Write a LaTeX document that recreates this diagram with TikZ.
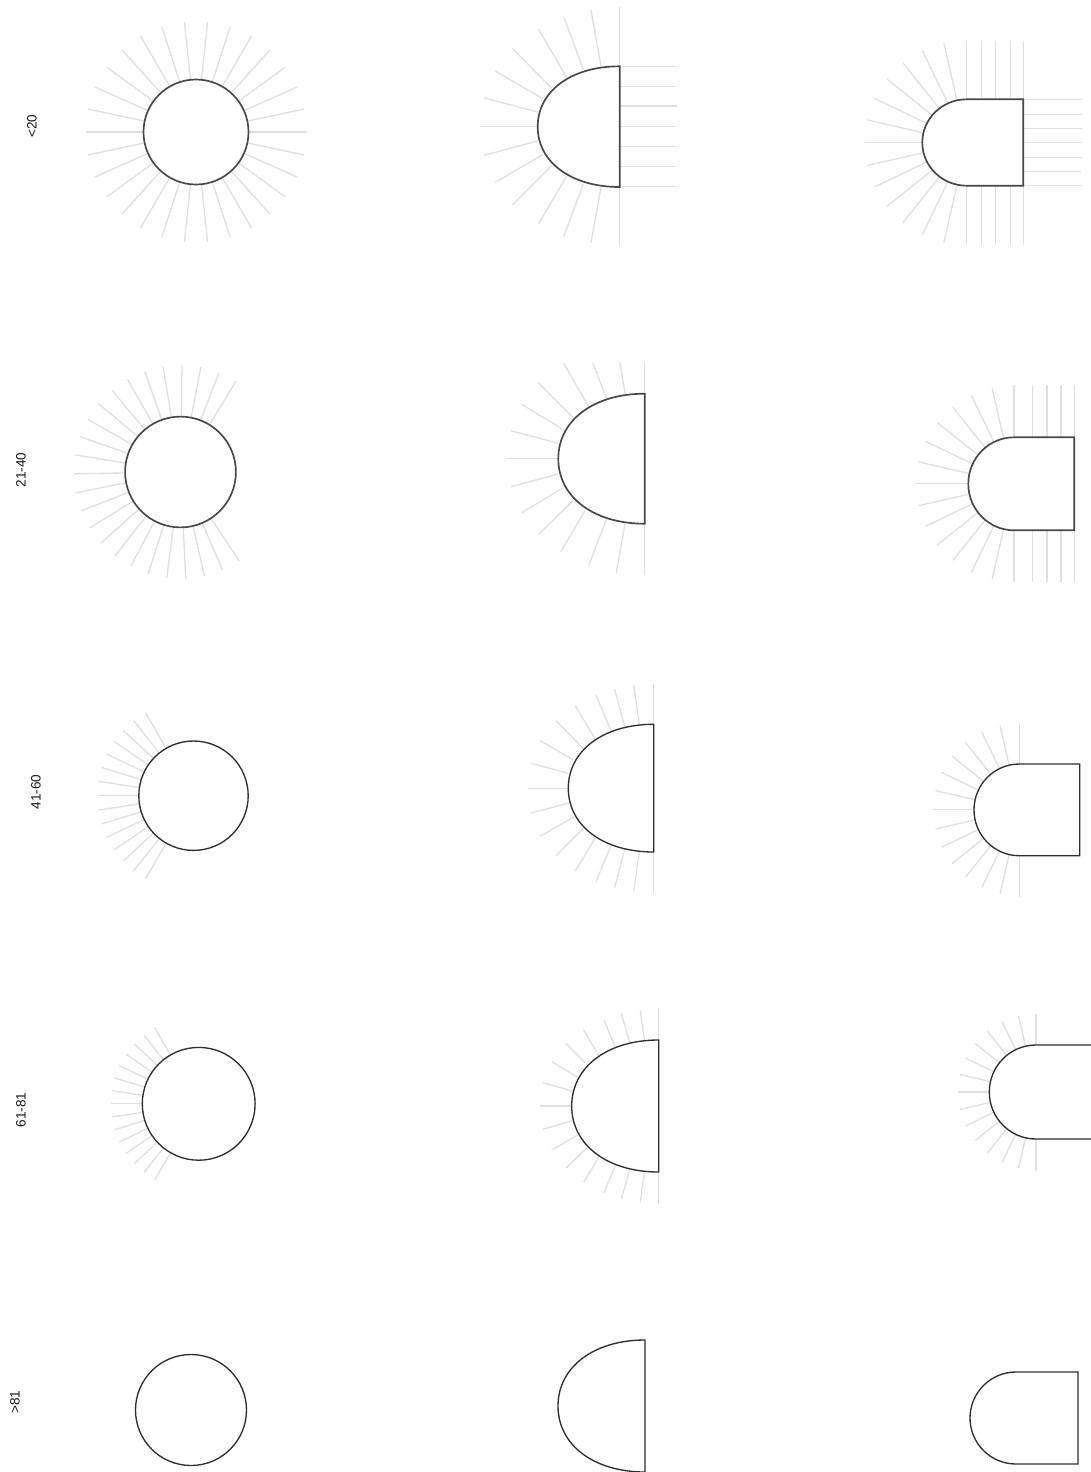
\documentclass[tikz,border=0pt]{standalone}
\usepackage{fontspec}
\setmainfont{Liberation Sans}

\begin{document}
\begin{tikzpicture}[x=.75pt,y=-.75pt,
  ray/.style={line width=1pt,black!12},
  wall/.style={line width=1pt,black!82},
  wallbold/.style={line width=1.25pt,black!72},
  rowlabel/.style={rotate=90,font=\fontsize{10.2pt}{12pt}\selectfont,black!90}]
\useasboundingbox (0,0) rectangle (1091,1472);
\node[rowlabel] (lt20) at (32,126) {<20};
\node[rowlabel] (r2140) at (21,470) {21-40};
\node[rowlabel] (r4160) at (36,792) {41-60};
\node[rowlabel] (r6181) at (21,1110) {61-81};
\node[rowlabel] (gt81) at (15,1402) {>81};
\draw[ray] (196,132) ++(0:53.5) -- +(0:57);
\draw[ray] (196,132) ++(12:53.5) -- +(12:57);
\draw[ray] (196,132) ++(24:53.5) -- +(24:57);
\draw[ray] (196,132) ++(36:53.5) -- +(36:57);
\draw[ray] (196,132) ++(48:53.5) -- +(48:57);
\draw[ray] (196,132) ++(60:53.5) -- +(60:57);
\draw[ray] (196,132) ++(72:53.5) -- +(72:57);
\draw[ray] (196,132) ++(84:53.5) -- +(84:57);
\draw[ray] (196,132) ++(96:53.5) -- +(96:57);
\draw[ray] (196,132) ++(108:53.5) -- +(108:57);
\draw[ray] (196,132) ++(120:53.5) -- +(120:57);
\draw[ray] (196,132) ++(132:53.5) -- +(132:57);
\draw[ray] (196,132) ++(144:53.5) -- +(144:57);
\draw[ray] (196,132) ++(156:53.5) -- +(156:57);
\draw[ray] (196,132) ++(168:53.5) -- +(168:57);
\draw[ray] (196,132) ++(180:53.5) -- +(180:57);
\draw[ray] (196,132) ++(192:53.5) -- +(192:57);
\draw[ray] (196,132) ++(204:53.5) -- +(204:57);
\draw[ray] (196,132) ++(216:53.5) -- +(216:57);
\draw[ray] (196,132) ++(228:53.5) -- +(228:57);
\draw[ray] (196,132) ++(240:53.5) -- +(240:57);
\draw[ray] (196,132) ++(252:53.5) -- +(252:57);
\draw[ray] (196,132) ++(264:53.5) -- +(264:57);
\draw[ray] (196,132) ++(276:53.5) -- +(276:57);
\draw[ray] (196,132) ++(288:53.5) -- +(288:57);
\draw[ray] (196,132) ++(300:53.5) -- +(300:57);
\draw[ray] (196,132) ++(312:53.5) -- +(312:57);
\draw[ray] (196,132) ++(324:53.5) -- +(324:57);
\draw[ray] (196,132) ++(336:53.5) -- +(336:57);
\draw[ray] (196,132) ++(348:53.5) -- +(348:57);
\draw[wallbold] (196,132) circle (52.5);
\draw[ray] (619.7,7.3) -- (619.7,246);
\draw[ray] (619.7,66.3) -- (677,66.3);
\draw[ray] (619.7,86.7) -- (677,86.7);
\draw[ray] (619.7,106) -- (677,106);
\draw[ray] (619.7,126.7) -- (677,126.7);
\draw[ray] (619.7,146.7) -- (677,146.7);
\draw[ray] (619.7,166.3) -- (677,166.3);
\draw[ray] (619.7,186.3) -- (677,186.3);
\draw[ray] (601,66) -- (591,10);
\draw[ray] (583.3,69.3) -- (563.7,16.7);
\draw[ray] (566.7,77.3) -- (538.3,29);
\draw[ray] (551.7,88.3) -- (512.3,48.3);
\draw[ray] (543.3,99) -- (495.3,71);
\draw[ray] (537.7,112) -- (484,98);
\draw[ray] (536.7,126.7) -- (480,126.7);
\draw[ray] (537.7,141) -- (484,155.3);
\draw[ray] (543.3,154.3) -- (495.3,182.3);
\draw[ray] (551.7,165.7) -- (512.3,205);
\draw[ray] (566.7,176) -- (538.3,224.3);
\draw[ray] (583.3,184) -- (563.7,236.7);
\draw[ray] (601,187.3) -- (591,242.7);
\draw[wallbold] (619.7,66.3) .. controls (571.3,66.3) and (537.7,91.1) .. (537.7,126.7) .. controls (537.7,162.3) and (571.3,187) .. (619.7,187) -- cycle;
\draw[ray] (1023.3,99.3) -- (1081.7,99.3);
\draw[ray] (1023.3,114.7) -- (1081.7,114.7);
\draw[ray] (1023.3,128.3) -- (1081.7,128.3);
\draw[ray] (1023.3,142.7) -- (1081.7,142.7);
\draw[ray] (1023.3,157.3) -- (1081.7,157.3);
\draw[ray] (1023.3,171.7) -- (1081,171.7);
\draw[ray] (1023.3,185.3) -- (1081.7,185.3);
\draw[ray] (966.7,40.7) -- (966.7,99.3);
\draw[ray] (981.7,40.7) -- (981.7,99.3);
\draw[ray] (995.7,40.7) -- (995.7,99.3);
\draw[ray] (1010.7,40.7) -- (1010.7,99.3);
\draw[ray] (1023.3,40.7) -- (1023.3,99.3);
\draw[ray] (966.7,185.7) -- (966.7,245);
\draw[ray] (981.7,185.7) -- (981.7,245);
\draw[ray] (995.7,185.7) -- (995.7,245);
\draw[ray] (1010.7,185.7) -- (1010.7,245);
\draw[ray] (1023.3,185.7) -- (1023.3,245);
\draw[ray] (966.7,142.7) ++(102.9:44) -- +(102.9:58);
\draw[ray] (966.7,142.7) ++(115.7:44) -- +(115.7:58);
\draw[ray] (966.7,142.7) ++(128.6:44) -- +(128.6:58);
\draw[ray] (966.7,142.7) ++(141.4:44) -- +(141.4:58);
\draw[ray] (966.7,142.7) ++(154.3:44) -- +(154.3:58);
\draw[ray] (966.7,142.7) ++(167.1:44) -- +(167.1:58);
\draw[ray] (966.7,142.7) ++(180:44) -- +(180:58);
\draw[ray] (966.7,142.7) ++(192.9:44) -- +(192.9:58);
\draw[ray] (966.7,142.7) ++(205.7:44) -- +(205.7:58);
\draw[ray] (966.7,142.7) ++(218.6:44) -- +(218.6:58);
\draw[ray] (966.7,142.7) ++(231.4:44) -- +(231.4:58);
\draw[ray] (966.7,142.7) ++(244.3:44) -- +(244.3:58);
\draw[ray] (966.7,142.7) ++(257.1:44) -- +(257.1:58);
\draw[wallbold] (1023.3,99.3) -- (966.7,99.3) arc (-90:-270:44.4 and 43.2) -- (1023.3,185.7) -- cycle;
\draw[ray] (180.5,472) ++(56.6:56) -- +(56.6:50.7);
\draw[ray] (180.5,472) ++(66.8:56) -- +(66.8:50.7);
\draw[ray] (180.5,472) ++(77:56) -- +(77:50.7);
\draw[ray] (180.5,472) ++(87.2:56) -- +(87.2:50.7);
\draw[ray] (180.5,472) ++(97.4:56) -- +(97.4:50.7);
\draw[ray] (180.5,472) ++(107.6:56) -- +(107.6:50.7);
\draw[ray] (180.5,472) ++(117.8:56) -- +(117.8:50.7);
\draw[ray] (180.5,472) ++(128:56) -- +(128:50.7);
\draw[ray] (180.5,472) ++(138.2:56) -- +(138.2:50.7);
\draw[ray] (180.5,472) ++(148.4:56) -- +(148.4:50.7);
\draw[ray] (180.5,472) ++(158.6:56) -- +(158.6:50.7);
\draw[ray] (180.5,472) ++(168.8:56) -- +(168.8:50.7);
\draw[ray] (180.5,472) ++(179:56) -- +(179:50.7);
\draw[ray] (180.5,472) ++(189.2:56) -- +(189.2:50.7);
\draw[ray] (180.5,472) ++(199.4:56) -- +(199.4:50.7);
\draw[ray] (180.5,472) ++(209.6:56) -- +(209.6:50.7);
\draw[ray] (180.5,472) ++(219.8:56) -- +(219.8:50.7);
\draw[ray] (180.5,472) ++(230:56) -- +(230:50.7);
\draw[ray] (180.5,472) ++(240.2:56) -- +(240.2:50.7);
\draw[ray] (180.5,472) ++(250.4:56) -- +(250.4:50.7);
\draw[ray] (180.5,472) ++(260.6:56) -- +(260.6:50.7);
\draw[ray] (180.5,472) ++(270.8:56) -- +(270.8:50.7);
\draw[ray] (180.5,472) ++(281:56) -- +(281:50.7);
\draw[ray] (180.5,472) ++(291.2:56) -- +(291.2:50.7);
\draw[ray] (180.5,472) ++(301.4:56) -- +(301.4:50.7);
\draw[wallbold] (180.5,472) circle (55.4);
\draw[ray] (644.7,362.3) -- (644.7,575);
\draw[ray] (625.3,393.7) -- (619.7,362.3);
\draw[ray] (606.7,399) -- (592.7,362.3);
\draw[ray] (588.7,406.7) -- (563.7,363.3);
\draw[ray] (573.7,418.3) -- (538.3,382.7);
\draw[ray] (564,430) -- (521.7,404.3);
\draw[ray] (558.3,443.3) -- (510.7,430.7);
\draw[ray] (557.7,458.7) -- (506.3,458.7);
\draw[ray] (558.3,474) -- (511,486.7);
\draw[ray] (563.3,487.7) -- (521.7,512.7);
\draw[ray] (573.7,500) -- (538.3,534.7);
\draw[ray] (585,510.7) -- (560.7,551.7);
\draw[ray] (606.7,518.3) -- (588.7,565.7);
\draw[ray] (625,523.7) -- (616.3,572.7);
\draw[wallbold] (644.7,393.7) .. controls (593.7,393.7) and (558.3,420.3) .. (558.3,458.7) .. controls (558.3,497.1) and (593.7,523.7) .. (644.7,523.7) -- cycle;
\draw[ray] (1014,385) -- (1014,437.3);
\draw[ray] (1032.3,385) -- (1032.3,437.3);
\draw[ray] (1047,385) -- (1047,437.3);
\draw[ray] (1061,385) -- (1061,437.3);
\draw[ray] (1074.3,385) -- (1074.3,437.3);
\draw[ray] (1014,530.3) -- (1014,582);
\draw[ray] (1032.3,530.3) -- (1032.3,582);
\draw[ray] (1047,530.3) -- (1047,582);
\draw[ray] (1061,530.3) -- (1061,582);
\draw[ray] (1074.3,530.3) -- (1074.3,582);
\draw[ray] (1014,483.8) ++(102.9:46) -- +(102.9:52);
\draw[ray] (1014,483.8) ++(115.7:46) -- +(115.7:52);
\draw[ray] (1014,483.8) ++(128.6:46) -- +(128.6:52);
\draw[ray] (1014,483.8) ++(141.4:46) -- +(141.4:52);
\draw[ray] (1014,483.8) ++(154.3:46) -- +(154.3:52);
\draw[ray] (1014,483.8) ++(167.1:46) -- +(167.1:52);
\draw[ray] (1014,483.8) ++(180:46) -- +(180:52);
\draw[ray] (1014,483.8) ++(192.9:46) -- +(192.9:52);
\draw[ray] (1014,483.8) ++(205.7:46) -- +(205.7:52);
\draw[ray] (1014,483.8) ++(218.6:46) -- +(218.6:52);
\draw[ray] (1014,483.8) ++(231.4:46) -- +(231.4:52);
\draw[ray] (1014,483.8) ++(244.3:46) -- +(244.3:52);
\draw[ray] (1014,483.8) ++(257.1:46) -- +(257.1:52);
\draw[wallbold] (1074.3,437.3) -- (1014,437.3) arc (-90:-270:45.7 and 46.5) -- (1074.3,530.3) -- cycle;
\draw[ray] (193.5,795.7) ++(120:55) -- +(120:41);
\draw[ray] (193.5,795.7) ++(128.6:55) -- +(128.6:41);
\draw[ray] (193.5,795.7) ++(137.1:55) -- +(137.1:41);
\draw[ray] (193.5,795.7) ++(145.7:55) -- +(145.7:41);
\draw[ray] (193.5,795.7) ++(154.3:55) -- +(154.3:41);
\draw[ray] (193.5,795.7) ++(162.9:55) -- +(162.9:41);
\draw[ray] (193.5,795.7) ++(171.4:55) -- +(171.4:41);
\draw[ray] (193.5,795.7) ++(180:55) -- +(180:41);
\draw[ray] (193.5,795.7) ++(188.6:55) -- +(188.6:41);
\draw[ray] (193.5,795.7) ++(197.1:55) -- +(197.1:41);
\draw[ray] (193.5,795.7) ++(205.7:55) -- +(205.7:41);
\draw[ray] (193.5,795.7) ++(214.3:55) -- +(214.3:41);
\draw[ray] (193.5,795.7) ++(222.9:55) -- +(222.9:41);
\draw[ray] (193.5,795.7) ++(231.4:55) -- +(231.4:41);
\draw[ray] (193.5,795.7) ++(240:55) -- +(240:41);
\draw[wall] (193.5,795.7) circle (54.7);
\draw[ray] (653.7,684.3) -- (653.7,893.3);
\draw[ray] (639.3,724.3) -- (633.7,685.3);
\draw[ray] (624.7,726.7) -- (614.7,689.3);
\draw[ray] (611,731) -- (596,695);
\draw[ray] (595,738.7) -- (575.3,705.7);
\draw[ray] (583,748.3) -- (556,720.7);
\draw[ray] (573.3,760) -- (540.3,740.7);
\draw[ray] (568.3,773.3) -- (531,763.3);
\draw[ray] (567.7,788.3) -- (528,788.3);
\draw[ray] (569,803) -- (531,813);
\draw[ray] (574,816.7) -- (540.3,836.3);
\draw[ray] (583.3,828.3) -- (556,855.7);
\draw[ray] (595,838.3) -- (575.3,871);
\draw[ray] (611,845.7) -- (596,881.7);
\draw[ray] (624.7,849) -- (614.7,887.7);
\draw[ray] (639.3,851.7) -- (633.7,891.3);
\draw[wall] (653.7,724.3) .. controls (603.3,724.3) and (568.3,750.6) .. (568.3,788.2) .. controls (568.3,825.8) and (603.3,852) .. (653.7,852) -- cycle;
\draw[ray] (1019.3,724) -- (1019.3,764);
\draw[ray] (1019.3,855.7) -- (1019.3,896.7);
\draw[ray] (1019.3,809.8) ++(102.9:46) -- +(102.9:40);
\draw[ray] (1019.3,809.8) ++(115.7:46) -- +(115.7:40);
\draw[ray] (1019.3,809.8) ++(128.6:46) -- +(128.6:40);
\draw[ray] (1019.3,809.8) ++(141.4:46) -- +(141.4:40);
\draw[ray] (1019.3,809.8) ++(154.3:46) -- +(154.3:40);
\draw[ray] (1019.3,809.8) ++(167.1:46) -- +(167.1:40);
\draw[ray] (1019.3,809.8) ++(180:46) -- +(180:40);
\draw[ray] (1019.3,809.8) ++(192.9:46) -- +(192.9:40);
\draw[ray] (1019.3,809.8) ++(205.7:46) -- +(205.7:40);
\draw[ray] (1019.3,809.8) ++(218.6:46) -- +(218.6:40);
\draw[ray] (1019.3,809.8) ++(231.4:46) -- +(231.4:40);
\draw[ray] (1019.3,809.8) ++(244.3:46) -- +(244.3:40);
\draw[ray] (1019.3,809.8) ++(257.1:46) -- +(257.1:40);
\draw[wall] (1079.7,764) -- (1019.3,764) arc (-90:-270:45.3 and 45.85) -- (1079.7,855.7) -- cycle;
\draw[ray] (198.7,1103.8) ++(120:56.5) -- +(120:31.5);
\draw[ray] (198.7,1103.8) ++(128.6:56.5) -- +(128.6:31.5);
\draw[ray] (198.7,1103.8) ++(137.1:56.5) -- +(137.1:31.5);
\draw[ray] (198.7,1103.8) ++(145.7:56.5) -- +(145.7:31.5);
\draw[ray] (198.7,1103.8) ++(154.3:56.5) -- +(154.3:31.5);
\draw[ray] (198.7,1103.8) ++(162.9:56.5) -- +(162.9:31.5);
\draw[ray] (198.7,1103.8) ++(171.4:56.5) -- +(171.4:31.5);
\draw[ray] (198.7,1103.8) ++(180:56.5) -- +(180:31.5);
\draw[ray] (198.7,1103.8) ++(188.6:56.5) -- +(188.6:31.5);
\draw[ray] (198.7,1103.8) ++(197.1:56.5) -- +(197.1:31.5);
\draw[ray] (198.7,1103.8) ++(205.7:56.5) -- +(205.7:31.5);
\draw[ray] (198.7,1103.8) ++(214.3:56.5) -- +(214.3:31.5);
\draw[ray] (198.7,1103.8) ++(222.9:56.5) -- +(222.9:31.5);
\draw[ray] (198.7,1103.8) ++(231.4:56.5) -- +(231.4:31.5);
\draw[ray] (198.7,1103.8) ++(240:56.5) -- +(240:31.5);
\draw[wall] (198.7,1103.8) circle (56.4);
\draw[ray] (658.7,1008.3) -- (658.7,1204);
\draw[ray] (644.3,1040) -- (640.3,1010);
\draw[ray] (629.7,1042.7) -- (621.3,1013.3);
\draw[ray] (615.3,1047.3) -- (604,1020);
\draw[ray] (599,1056) -- (583.7,1030);
\draw[ray] (587.3,1065) -- (565.7,1043.3);
\draw[ray] (577.7,1077.3) -- (551.7,1061.7);
\draw[ray] (572.3,1091) -- (543,1082.7);
\draw[ray] (571.7,1106) -- (539.7,1106);
\draw[ray] (572.3,1120.7) -- (543,1129.3);
\draw[ray] (577.7,1135) -- (551.7,1150);
\draw[ray] (587.3,1147.3) -- (565.7,1168.3);
\draw[ray] (599,1156.7) -- (583.7,1182.3);
\draw[ray] (615.3,1165.3) -- (604,1192.7);
\draw[ray] (629.7,1170) -- (621.3,1199);
\draw[ray] (644.3,1172) -- (640.3,1202.3);
\draw[wall] (658.7,1040) .. controls (607.4,1040) and (571.7,1067.1) .. (571.7,1106) .. controls (571.7,1144.9) and (607.4,1172) .. (658.7,1172) -- cycle;
\draw[ray] (1036,1014) -- (1036,1045);
\draw[ray] (1036,1139) -- (1036,1171);
\draw[ray] (1036,1092) ++(102.9:47) -- +(102.9:31);
\draw[ray] (1036,1092) ++(115.7:47) -- +(115.7:31);
\draw[ray] (1036,1092) ++(128.6:47) -- +(128.6:31);
\draw[ray] (1036,1092) ++(141.4:47) -- +(141.4:31);
\draw[ray] (1036,1092) ++(154.3:47) -- +(154.3:31);
\draw[ray] (1036,1092) ++(167.1:47) -- +(167.1:31);
\draw[ray] (1036,1092) ++(180:47) -- +(180:31);
\draw[ray] (1036,1092) ++(192.9:47) -- +(192.9:31);
\draw[ray] (1036,1092) ++(205.7:47) -- +(205.7:31);
\draw[ray] (1036,1092) ++(218.6:47) -- +(218.6:31);
\draw[ray] (1036,1092) ++(231.4:47) -- +(231.4:31);
\draw[ray] (1036,1092) ++(244.3:47) -- +(244.3:31);
\draw[ray] (1036,1092) ++(257.1:47) -- +(257.1:31);
\draw[wall] (1093,1045) -- (1036,1045) arc (-90:-270:46.7 and 47) -- (1093,1139);
\draw[wall] (191,1410) circle (55.5);
\draw[wall] (645,1340) .. controls (593.7,1340) and (558,1367.1) .. (558,1406) .. controls (558,1444.9) and (593.7,1472) .. (645,1472) -- cycle;
\draw[wall] (1078,1372) -- (1016,1372) arc (-90:-270:46 and 46) -- (1078,1464) -- cycle;
\end{tikzpicture}
\end{document}
